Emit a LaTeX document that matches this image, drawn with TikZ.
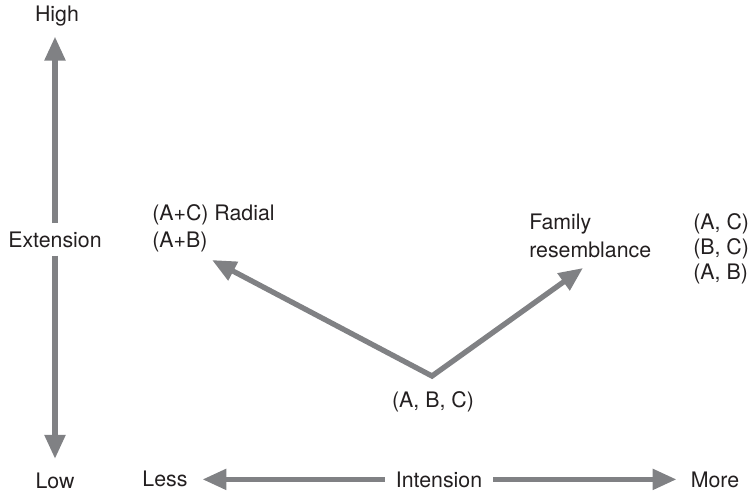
\documentclass[tikz,border=0pt]{standalone}
\usepackage{fontspec}
\setmainfont{TeX Gyre Heros}
\usetikzlibrary{arrows.meta}
\definecolor{axisgray}{HTML}{808184}
\definecolor{ink}{HTML}{231F20}
\begin{document}
\begin{tikzpicture}[x=0.75pt,y=-0.75pt,
  lbl/.style={inner sep=0pt,text=ink,font=\fontsize{16}{20}\selectfont},
  axis/.style={draw=axisgray,line width=4pt,
    -{Triangle[length=18pt,width=15pt]}}]
\useasboundingbox (0,0) rectangle (750,494);

% Extension axis (vertical)
\node[lbl,anchor=base,inner ysep=8pt] (high) at (57,21) {High};
\node[lbl,anchor=base,inner ysep=6pt] (ext) at (55,247) {Extension};
\node[lbl,anchor=base,inner ysep=10pt] (low) at (55,488) {Low};
\draw[axis] (ext.north) -- (ext.north |- high.south);
\draw[axis] (ext.south) -- (ext.south |- low.north);

% Intension axis (horizontal)
\node[lbl,anchor=base,inner xsep=11pt] (less) at (165,486) {Less};
\node[lbl,anchor=base,inner xsep=8pt] (int) at (439,487) {Intension};
\node[lbl,anchor=base,inner xsep=10.5pt] (more) at (715,487) {More};
\draw[axis] (int.west) -- (int.west -| less.east);
\draw[axis] (int.east) -- (int.east -| more.west);

% Category structures
\node[lbl,anchor=base west] (radial) at (152,220) {(A+C) Radial};
\node[lbl,anchor=base west] (apb) at (152,247) {(A+B)};
\node[lbl,anchor=base west] (family) at (529,229) {Family};
\node[lbl,anchor=base west] (resem) at (529,257) {resemblance};
\node[lbl,anchor=base west] (ac) at (693,229) {(A, C)};
\node[lbl,anchor=base west] (bc) at (693,254) {(B, C)};
\node[lbl,anchor=base west] (ab) at (693,279) {(A, B)};
\node[lbl,anchor=base] (abc) at (433,407) {(A, B, C)};

% Diverging arrows from the prototype
\coordinate (apex) at (432,376);
\coordinate (radTip) at (212,260);
\coordinate (famTip) at (583,268);
\draw[axis,{Triangle[length=18pt,width=15pt]}-{Triangle[length=18pt,width=15pt]}]
  (radTip) -- (apex) -- (famTip);
\end{tikzpicture}
\end{document}
